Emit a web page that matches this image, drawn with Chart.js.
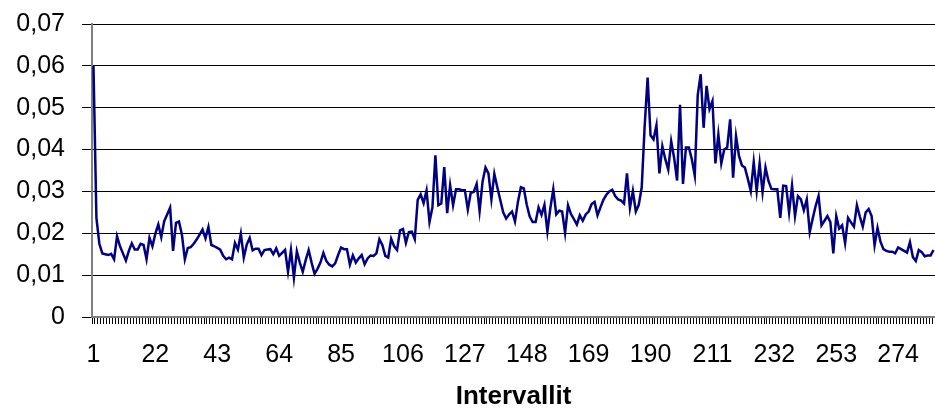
<!DOCTYPE html>
<html>
<head>
<meta charset="utf-8">
<script src="https://cdn.jsdelivr.net/npm/chart.js@4.4.1/dist/chart.umd.min.js"></script>
<style>
  html, body { margin: 0; padding: 0; background: #ffffff; }
  #wrap { width: 935px; height: 410px; }
</style>
</head>
<body>
<div id="wrap"><canvas id="c" width="935" height="410"></canvas></div>
<script>
// Series values (one per interval)
const values = [
  0.060, 0.0237, 0.0175, 0.0152, 0.0150, 0.0148, 0.0151, 0.0138, 0.0193, 0.0169,
  0.0152, 0.0135, 0.0158, 0.0176, 0.0161, 0.0161, 0.0175, 0.0172, 0.0138, 0.0189,
  0.0169, 0.0199, 0.0221, 0.0191, 0.0229, 0.0245, 0.0261, 0.0158, 0.0225, 0.0228,
  0.0197, 0.0138, 0.0165, 0.0167, 0.0175, 0.0185, 0.0197, 0.0209, 0.0188, 0.0215,
  0.0172, 0.0169, 0.0165, 0.0161, 0.0146, 0.0138, 0.0142, 0.0138, 0.0177, 0.0161,
  0.0199, 0.0142, 0.0173, 0.0189, 0.0159, 0.0163, 0.0163, 0.0148, 0.0160, 0.0161,
  0.0162, 0.0150, 0.0164, 0.0146, 0.0153, 0.0160, 0.0108, 0.0160, 0.0094, 0.0157,
  0.0130, 0.0108, 0.0136, 0.0160, 0.0130, 0.0103, 0.0115, 0.0130, 0.0153, 0.0134,
  0.0125, 0.0121, 0.0128, 0.0148, 0.0166, 0.0162, 0.0162, 0.0125, 0.0147, 0.0130,
  0.0140, 0.0148, 0.0126, 0.0140, 0.0147, 0.0146, 0.0152, 0.0186, 0.0172, 0.0146,
  0.0142, 0.0187, 0.0169, 0.0160, 0.0207, 0.0210, 0.0177, 0.0203, 0.0204, 0.0186,
  0.0280, 0.0293, 0.0272, 0.0302, 0.0227, 0.0262, 0.0386, 0.0267, 0.0271, 0.0358,
  0.0248, 0.0315, 0.0267, 0.0305, 0.0305, 0.0303, 0.0303, 0.0257, 0.0297, 0.0299,
  0.0318, 0.0253, 0.0323, 0.0357, 0.0343, 0.0281, 0.0342, 0.0310, 0.0280, 0.0250,
  0.0235, 0.0245, 0.0252, 0.0228, 0.0275, 0.0310, 0.0307, 0.0268, 0.0240, 0.0227,
  0.0227, 0.0262, 0.0244, 0.0268, 0.0204, 0.0260, 0.0305, 0.0245, 0.0254, 0.0252,
  0.0201, 0.0267, 0.0246, 0.0234, 0.0221, 0.0243, 0.0230, 0.0245, 0.0252, 0.0270,
  0.0275, 0.0243, 0.0262, 0.0280, 0.0292, 0.0300, 0.0304, 0.0289, 0.0281, 0.0278,
  0.0271, 0.0343, 0.0261, 0.0301, 0.0252, 0.0268, 0.0310, 0.0456, 0.0572, 0.0434,
  0.0424, 0.0458, 0.0343, 0.0408, 0.0377, 0.0352, 0.0420, 0.0380, 0.0326, 0.0507,
  0.0318, 0.0405, 0.0405, 0.0377, 0.0338, 0.0530, 0.0580, 0.0452, 0.0552, 0.0497,
  0.0516, 0.0367, 0.0436, 0.0367, 0.0400, 0.0405, 0.0472, 0.0333, 0.0432, 0.0385,
  0.0362, 0.0357, 0.0330, 0.0301, 0.0370, 0.0301, 0.0367, 0.0298, 0.0357, 0.0325,
  0.0306, 0.0305, 0.0305, 0.0237, 0.0314, 0.0313, 0.0250, 0.0314, 0.0241, 0.0289,
  0.0281, 0.0255, 0.0281, 0.0203, 0.0235, 0.0265, 0.0289, 0.0219, 0.0230, 0.0241,
  0.0227, 0.0152, 0.0241, 0.0211, 0.0219, 0.0176, 0.0237, 0.0226, 0.0216, 0.0267,
  0.0240, 0.0216, 0.0250, 0.0258, 0.0241, 0.0171, 0.0213, 0.0180, 0.0162, 0.0158,
  0.0156, 0.0156, 0.0152, 0.0166, 0.0162, 0.0158, 0.0154, 0.0179, 0.0143, 0.0134,
  0.0160, 0.0155, 0.0145, 0.0147, 0.0147, 0.0160
];

// Categories: interval numbers 1..N
const categories = values.map((_, i) => String(i + 1));

// Tick labels shown on the x axis
const xTickLabels = ['1', '22', '43', '64', '85', '106', '127', '148', '169', '190', '211', '232', '253', '274'];

// Tick labels on the y axis (0 .. 0.07)
const yTickLabels = ['0', '0,01', '0,02', '0,03', '0,04', '0,05', '0,06', '0,07'];

const xTitle = 'Intervallit';

const FONT = '"Liberation Sans", Arial, sans-serif';

new Chart(document.getElementById('c'), {
  type: 'line',
  data: {
    labels: categories,
    datasets: [{
      data: values,
      borderColor: '#000080',
      borderWidth: 2.5,
      pointRadius: 0,
      pointHoverRadius: 0,
      tension: 0,
      fill: false
    }]
  },
  options: {
    responsive: false,
    animation: false,
    devicePixelRatio: 1,
    layout: { padding: { top: 24, right: 0, left: 0, bottom: 0 } },
    plugins: {
      legend: { display: false },
      tooltip: { enabled: false }
    },
    scales: {
      x: {
        type: 'category',
        offset: true,
        grid: {
          display: true,
          drawOnChartArea: false,
          drawTicks: true,
          tickLength: 7,
          offset: true,
          color: '#000000',
          lineWidth: 1
        },
        border: { display: true, color: '#808080', width: 2 },
        ticks: {
          autoSkip: false,
          maxRotation: 0,
          minRotation: 0,
          padding: 16,
          color: '#000000',
          font: { family: FONT, size: 25 },
          callback: function (val, idx) {
            const lab = categories[idx];
            return xTickLabels.includes(lab) ? lab : '';
          }
        },
        title: {
          display: true,
          text: xTitle,
          color: '#000000',
          font: { family: FONT, size: 26, weight: 'bold', lineHeight: 1 },
          padding: { top: 0, bottom: 0 }
        },
        afterFit: function (scale) {
          scale.height = 93;
          scale.paddingLeft = 0;
          scale.paddingRight = 0;
        }
      },
      y: {
        min: 0,
        max: 0.07,
        ticks: {
          stepSize: 0.01,
          padding: 17,
          color: '#000000',
          font: { family: FONT, size: 25 },
          callback: function (val) {
            const k = Math.round(val * 100);
            return yTickLabels[k];
          }
        },
        grid: {
          color: '#000000',
          lineWidth: 1,
          drawTicks: true,
          tickLength: 10
        },
        border: { display: true, color: '#808080', width: 2 },
        afterFit: function (scale) {
          scale.width = 92;
          scale.paddingTop = 0;
          scale.paddingBottom = 0;
        }
      }
    }
  }
});
</script>
</body>
</html>
